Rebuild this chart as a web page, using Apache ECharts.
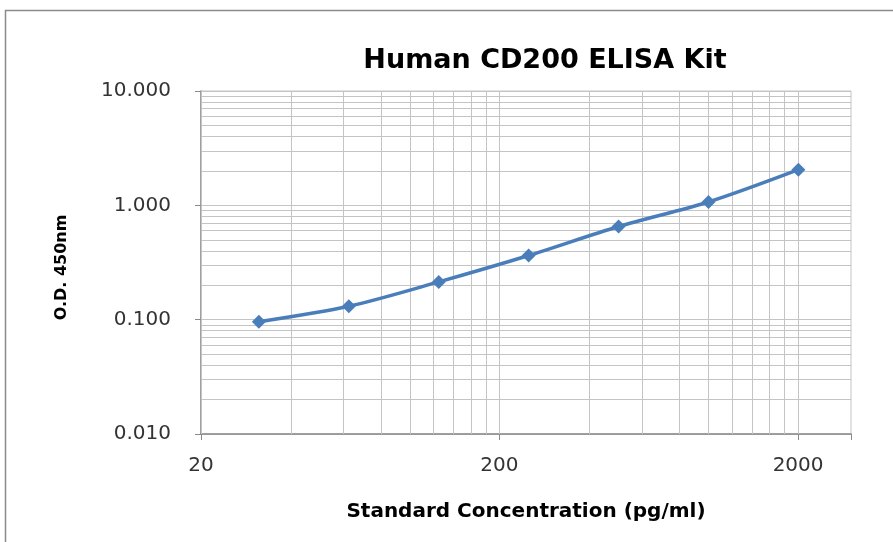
<!DOCTYPE html>
<html>
<head>
<meta charset="utf-8">
<script src="https://cdn.jsdelivr.net/npm/echarts@6/dist/echarts.min.js"></script>
<style>html,body{margin:0;padding:0;background:#fff;}#c{width:893px;height:542px;}</style>
</head>
<body>
<div id="c"></div>
<script>
const concentrations = [31.25, 62.5, 125, 250, 500, 1000, 2000];
const odValues = [0.096, 0.131, 0.214, 0.364, 0.653, 1.07, 2.05];
const xTickValues = [20, 200, 2000];
const xTickLabels = ['20', '200', '2000'];
const yTickLabels = ['0.010', '0.100', '1.000', '10.000'];
const xMinorGrid = [40, 60, 80, 100, 120, 140, 160, 180, 400, 600, 800, 1000, 1200, 1400, 1600, 1800];
const yMinorGrid = [0.02,0.03,0.04,0.05,0.06,0.07,0.08,0.09,0.2,0.3,0.4,0.5,0.6,0.7,0.8,0.9,2,3,4,5,6,7,8,9];

const gridColor = '#c4c4c4';
const axisColor = '#8a8a8a';
const labelFont = 'DejaVu Sans';
const boldFont = 'DejaVu Sans';
const chart = echarts.init(document.getElementById('c'), null, {renderer: 'canvas'});
const minorLines = xMinorGrid.concat(xTickValues).map(v => ({xAxis: v})).concat(yMinorGrid.map(v => ({yAxis: v})));

function xLabel(v) {
  for (let i = 0; i < xTickValues.length; i++) {
    if (Math.abs(Math.log10(v) - Math.log10(xTickValues[i])) < 0.01) return xTickLabels[i];
  }
  return '';
}

chart.setOption({
  animation: false,
  backgroundColor: '#fff',
  title: {
    text: 'Human CD200 ELISA Kit',
    left: 540, top: 42, textAlign: 'center',
    textStyle: {fontFamily: boldFont, fontWeight: 'bold', fontSize: 27, color: '#000'}
  },
  graphic: [{
    type: 'rect', shape: {x: 5.5, y: 10.5, width: 900, height: 540},
    style: {fill: 'none', stroke: axisColor, lineWidth: 1.5}, silent: true, z: -10
  }],
  grid: {left: 201, top: 91, width: 650, height: 343, show: true, borderColor: gridColor, borderWidth: 1},
  xAxis: {
    type: 'log', logBase: 10, min: 20, max: 3000, interval: 1,
    name: 'Standard Concentration (pg/ml)', nameLocation: 'middle', nameGap: 68,
    nameTextStyle: {fontFamily: boldFont, fontWeight: 'bold', fontSize: 20, color: '#000'},
    axisLine: {show: true, lineStyle: {color: axisColor, width: 1.5}},
    axisTick: {show: true, length: 6, lineStyle: {color: axisColor}},
    axisLabel: {
      interval: 0, margin: 22, fontFamily: labelFont, fontSize: 20, color: '#333',
      formatter: xLabel
    },
    splitLine: {show: false}
  },
  yAxis: {
    type: 'log', logBase: 10, min: 0.01, max: 10,
    name: 'O.D. 450nm', nameLocation: 'middle', nameGap: 131, nameRotate: 90,
    nameTextStyle: {fontFamily: boldFont, fontWeight: 'bold', fontSize: 16, color: '#000', padding: [0, 10, 0, 0]},
    axisLine: {show: true, lineStyle: {color: axisColor, width: 1.5}},
    axisTick: {show: true, length: 6, lineStyle: {color: axisColor}},
    axisLabel: {
      margin: 30, fontFamily: labelFont, fontSize: 20, color: '#333',
      formatter: v => { const e = Math.round(Math.log10(v)) + 2; return yTickLabels[e] || ''; }
    },
    splitLine: {show: true, lineStyle: {color: gridColor, width: 1}}
  },
  series: [{
    type: 'line', z: 1, silent: true,
    data: concentrations.map((c, i) => [c, odValues[i]]),
    showSymbol: false, lineStyle: {opacity: 0},
    markLine: {
      silent: true, symbol: 'none', label: {show: false}, animation: false,
      lineStyle: {color: gridColor, width: 1, type: 'solid'},
      emphasis: {disabled: true},
      data: minorLines
    }
  }, {
    type: 'line', z: 5,
    data: concentrations.map((c, i) => [c, odValues[i]]),
    smooth: 0.3,
    symbol: 'diamond', symbolSize: 14,
    itemStyle: {color: '#4a7ebb'},
    lineStyle: {color: '#4a7ebb', width: 3.5}
  }]
});
</script>
</body>
</html>
